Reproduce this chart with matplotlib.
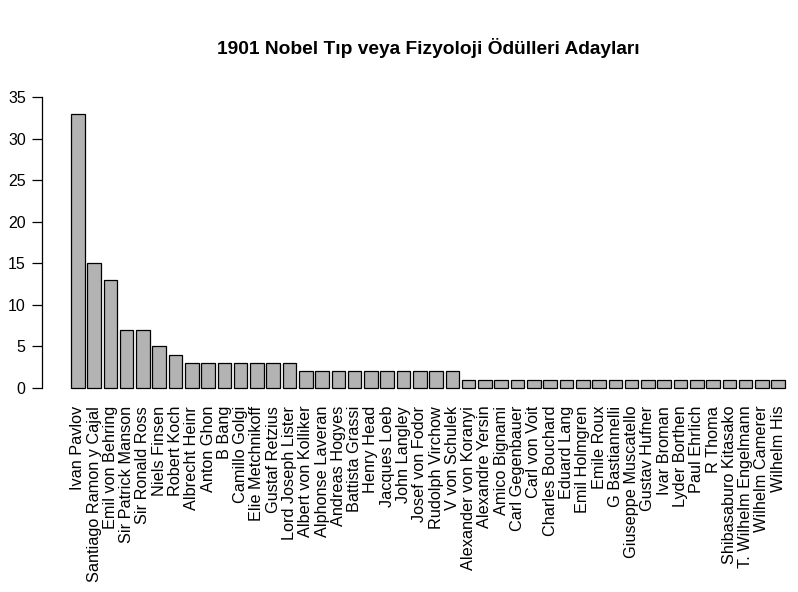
import numpy as np
import matplotlib
matplotlib.use("Agg")
import matplotlib.pyplot as plt

plt.rcParams['font.family'] = ['Liberation Sans', 'DejaVu Sans']

# aday isimleri ve aday gösterilme sayilari
names = ["Ivan Pavlov", "Santiago Ramon y Cajal", "Emil von Behring",
         "Sir Patrick Manson", "Sir Ronald Ross", "Niels Finsen", "Robert Koch",
         "Albrecht Heinr", "Anton Ghon", "B Bang", "Camillo Golgi",
         "Elie Metchnikoff", "Gustaf Retzius", "Lord Joseph Lister",
         "Albert von Kolliker", "Alphonse Laveran", "Andreas Hogyes",
         "Battista Grassi", "Henry Head", "Jacques Loeb", "John Langley",
         "Josef von Fodor", "Rudolph Virchow", "V von Schulek",
         "Alexander von Koranyi", "Alexandre Yersin", "Amico Bignami",
         "Carl Gegenbauer", "Carl von Voit", "Charles Bouchard", "Eduard Lang",
         "Emil Holmgren", "Emile Roux", "G Bastiannelli", "Giuseppe Muscatello",
         "Gustav Hufner", "Ivar Broman", "Lyder Borthen", "Paul Ehrlich",
         "R Thoma", "Shibasaburo Kitasako", "T. Wilhelm Engelmann",
         "Wilhelm Camerer", "Wilhelm His"]
counts = [33, 15, 13, 7, 7, 5, 4,
          3, 3, 3, 3, 3, 3, 3,
          2, 2, 2, 2, 2, 2, 2, 2, 2, 2,
          1, 1, 1, 1, 1, 1, 1, 1, 1, 1, 1, 1, 1, 1, 1, 1, 1, 1, 1, 1]
yticks = [0, 5, 10, 15, 20, 25, 30, 35]

n = len(names)
x = 0.7 + 1.2 * np.arange(n)

fig = plt.figure(figsize=(7.98, 5.92), dpi=100)
# R tarzi cizim alani (sag kenar resmin disina tasiyor)
ax = fig.add_axes([0.0531, 0.325, 0.9664, 0.5307])

ax.bar(x, counts, width=1, color="#b3b3b3", edgecolor="black", linewidth=0.9)

w = 1.2 * n
ax.set_xlim(0.2 - 0.04 * (w - 0.2), w + 0.04 * (w - 0.2))
ax.set_ylim(-0.04 * 35, 35 * 1.04)

for s in ["top", "right", "bottom"]:
    ax.spines[s].set_visible(False)
ax.spines["left"].set_bounds(0, 35)
ax.spines["left"].set_linewidth(0.9)

ax.set_yticks(yticks)
ax.tick_params(axis="y", length=7, width=0.9, pad=5, labelsize=11.5)
ax.set_xticks(x)
ax.set_xticklabels(names, rotation=90, fontsize=11.7)
ax.tick_params(axis="x", length=0, pad=4.5)

ax.set_title("1901 Nobel Tıp veya Fizyoloji Ödülleri Adayları",
             fontsize=13.8, fontweight="bold", pad=22.5)

plt.savefig("out.png", dpi=100)
